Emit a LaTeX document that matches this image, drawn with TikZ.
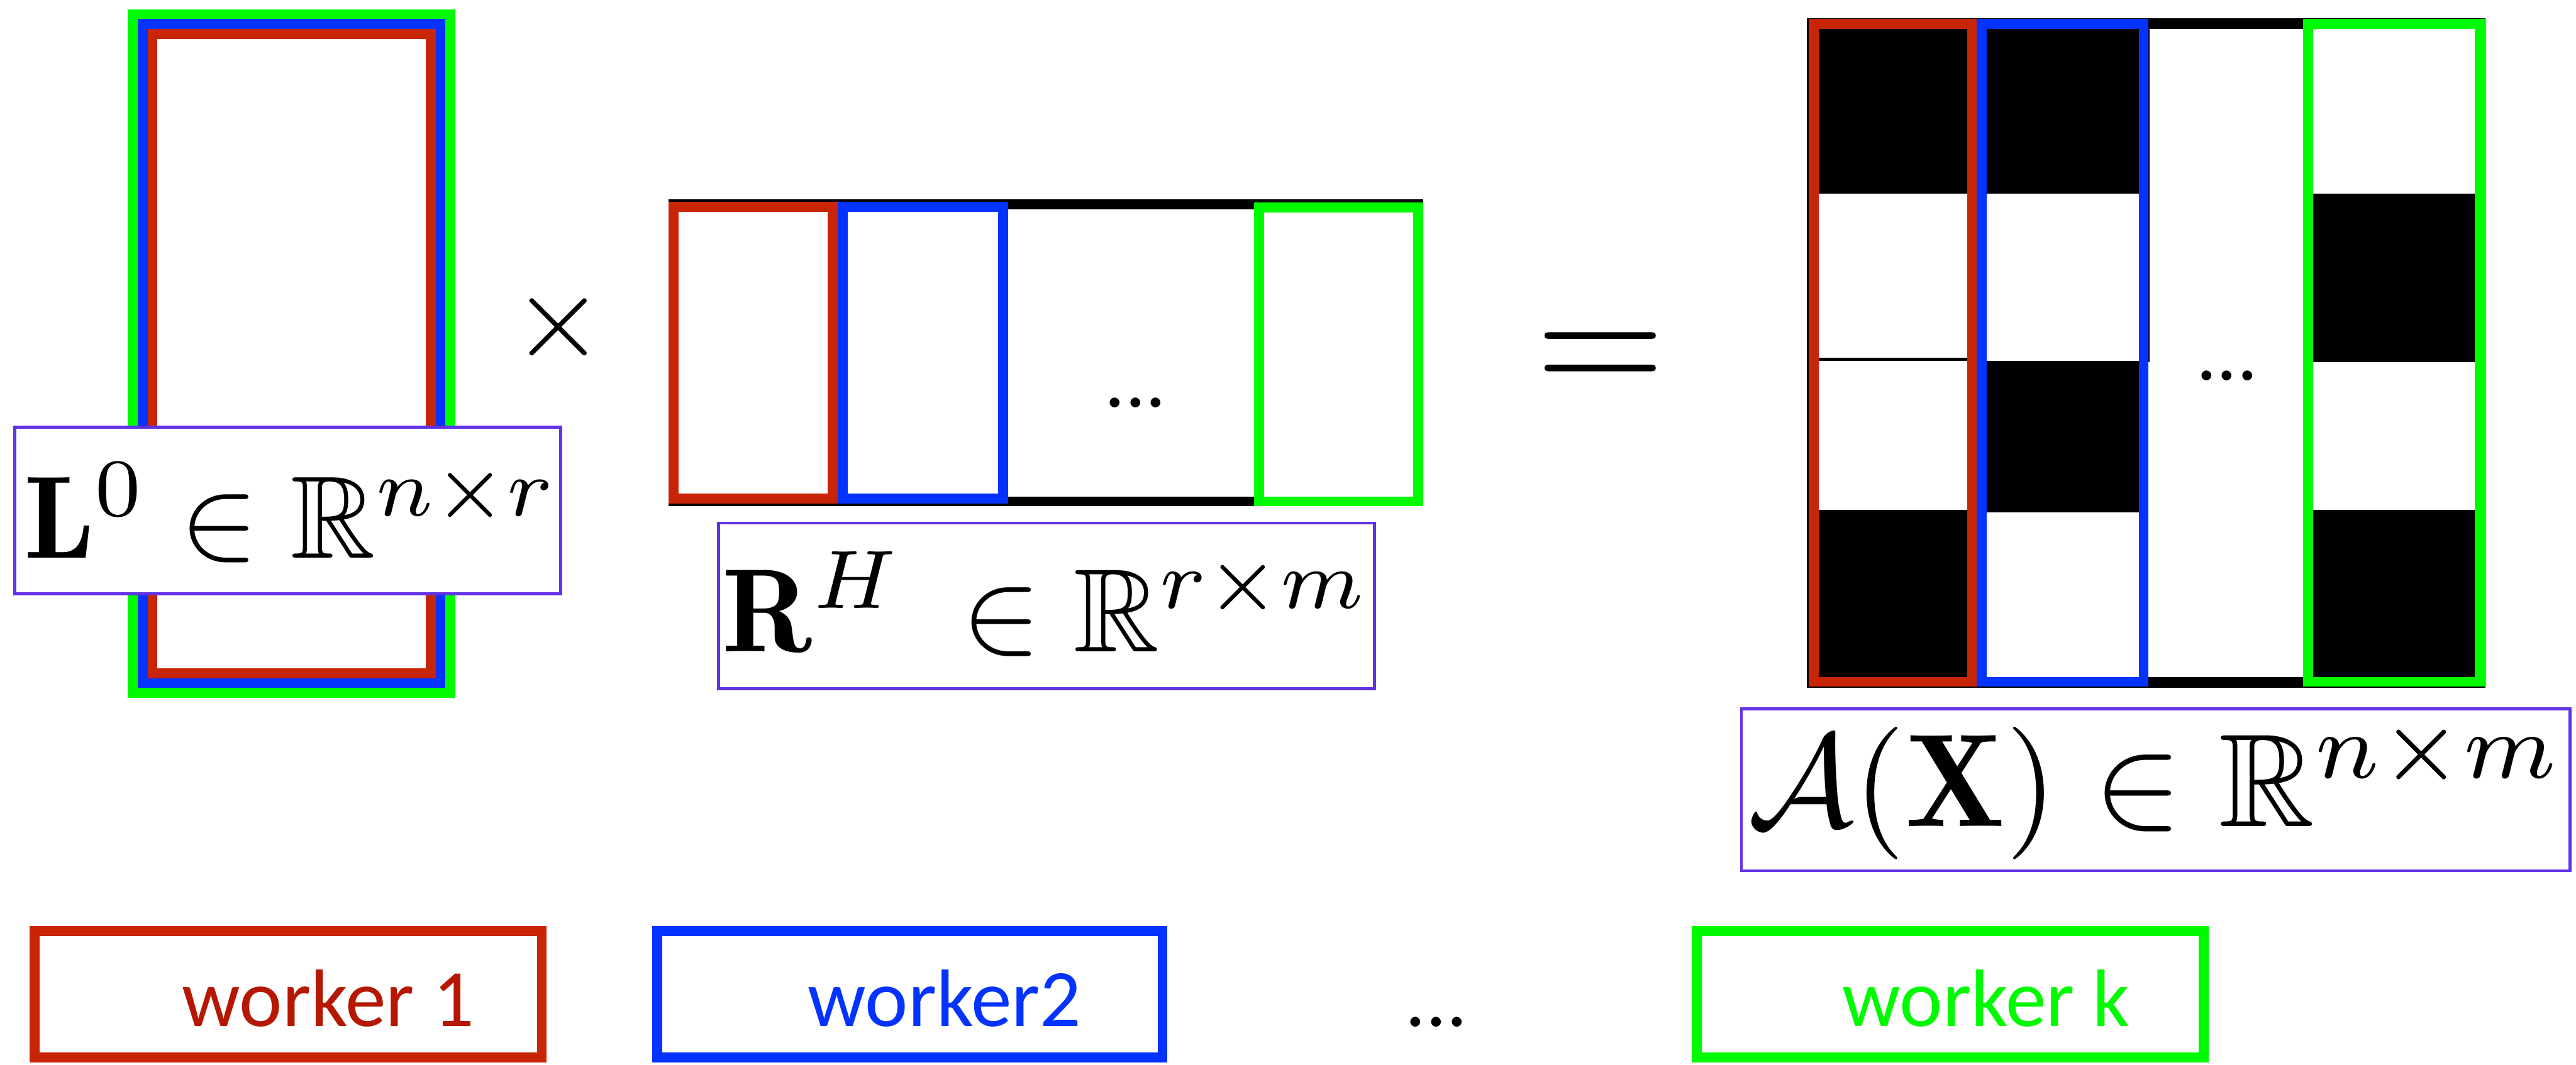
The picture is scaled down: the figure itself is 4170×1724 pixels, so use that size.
\documentclass[tikz,border=0pt]{standalone}
\usepackage{amssymb}
\usepackage{graphicx}
\usepackage{fontspec}
\newfontfamily\wfont{Carlito}
\definecolor{rcol}{RGB}{200,37,6}
\definecolor{rtext}{RGB}{181,23,0}
\definecolor{bcol}{RGB}{4,51,255}
\definecolor{gcol}{RGB}{0,250,0}
\definecolor{purp}{RGB}{98,51,229}
\newcommand{\scaledmath}[2]{\scalebox{#1}{$#2$}}
\begin{document}
\begin{tikzpicture}[x=0.01cm,y=-0.01cm,
  band/.style={line width=0.16cm},
  lbl/.style={draw=purp, line width=0.05cm, fill=white},
  mathlbl/.style={font=\fontsize{10}{12}\selectfont, anchor=base, inner sep=0},
  wtext/.style={font=\wfont\fontsize{37.5}{40}\selectfont, anchor=base, inner sep=0},
  ellip/.style={font=\wfont\fontsize{37.5}{40}\selectfont, anchor=base, inner sep=0}]
\useasboundingbox (0,0) rectangle (4170,1724);
\fill[white] (0,0) rectangle (4170,1724);
% L matrix
\draw[band, gcol] (215,23) rectangle (729,1122);
\draw[band, bcol] (231,39) rectangle (713,1106);
\draw[band, rcol] (247,55) rectangle (697,1090);
\draw[lbl] (24,692) rectangle (908,962);
\node[mathlbl] (Llab) at (472,904) {\scaledmath{5.4}{\mathbf{L}^0\in\mathbb{R}^{n\times r}}};
% times
\node[mathlbl] (times) at (904,578) {\scaledmath{5.46}{\times}};
% R matrix
\draw[band, black] (1090,331) rectangle (2296,812);
\draw[band, rcol] (1090,335) rectangle (1348,807);
\draw[band, bcol] (1364,335) rectangle (1624,807);
\draw[band, gcol] (2038,336) rectangle (2296,812);
\node[ellip] (Rdots) at (1838,659) {...};
\draw[lbl] (1163,847) rectangle (2225,1115);
\node[mathlbl] (Rlab) at (1694,1055) {\scaledmath{5.46}{\mathbf{R}^{H}\:\in\mathbb{R}^{r\times m}}};
% equals
\node[mathlbl] (eq) at (2591,638) {\scaledmath{7.7}{=}};
% A matrix cells
\fill[black] (2928,31) rectangle (3200,314);
\fill[black] (2928,826) rectangle (3200,1112);
\fill[black] (3200,31) rectangle (3478,314);
\fill[black] (3200,584) rectangle (3478,830);
\fill[black] (3728,314) rectangle (4022,586);
\fill[black] (3728,826) rectangle (4022,1112);
\draw[line width=0.03cm] (2926,31) rectangle (4022,1112);
\draw[band] (3200,39) -- (3728,39);
\draw[band] (3200,1104) -- (3728,1104);
\draw[line width=0.05cm] (2928,582) -- (3200,582);
\draw[line width=0.02cm] (3479,31) -- (3479,586);
\draw[band, rcol] (2936,39) rectangle (3192,1104);
\draw[band, bcol] (3208,39) rectangle (3470,1104);
\draw[band, gcol] (3736,39) rectangle (4014,1104);
\node[ellip] (Adots) at (3605,615) {...};
\draw[lbl] (2819,1148) rectangle (4160,1410);
\node[mathlbl] (Alab) at (3490,1338) {\scaledmath{6.1}{\mathcal{A}(\mathbf{X})\in\mathbb{R}^{n\times m}}};
% workers
\draw[band, rcol] (56,1508) rectangle (877,1712);
\node[wtext, text=rtext] (w1) at (531,1662) {worker 1};
\draw[band, bcol] (1064,1508) rectangle (1882,1712);
\node[wtext, text=bcol] (w2) at (1529,1662) {worker2};
\node[ellip] (wdots) at (2325,1662) {...};
\draw[band, gcol] (2747,1508) rectangle (3567,1712);
\node[wtext, text=gcol] (wk) at (3215,1662) {worker k};
\end{tikzpicture}
\end{document}
